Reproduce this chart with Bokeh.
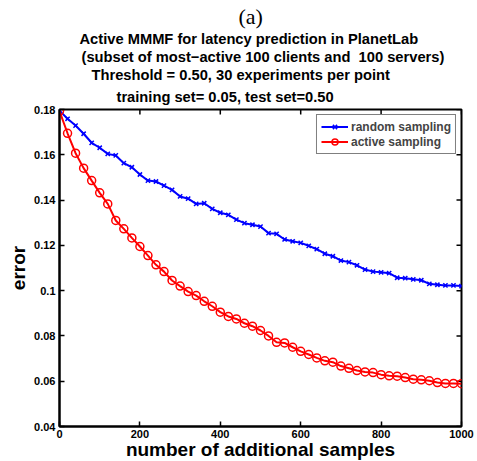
import math
from bokeh.plotting import figure
from bokeh.models import Range1d, FixedTicker, LinearAxis, Legend, Title
from bokeh.embed import file_html
from bokeh.resources import INLINE

samples = list(range(0, 1001, 20))
random_err = [0.1795, 0.1759, 0.1729, 0.1693, 0.1653, 0.1631, 0.1604, 0.1597, 0.1563, 0.1545,
              0.1513, 0.1486, 0.1482, 0.1464, 0.1445, 0.1416, 0.1406, 0.1383, 0.1386, 0.1361,
              0.1344, 0.1335, 0.1314, 0.1298, 0.1291, 0.1283, 0.1254, 0.1251, 0.1226, 0.1218,
              0.1211, 0.1198, 0.1183, 0.1163, 0.1152, 0.1133, 0.1126, 0.1112, 0.1093, 0.1084,
              0.1081, 0.1077, 0.1057, 0.1055, 0.1050, 0.1046, 0.1030, 0.1026, 0.1023, 0.1023,
              0.1020]
active_err = [0.1793, 0.1695, 0.1607, 0.1541, 0.1486, 0.1432, 0.1383, 0.1310, 0.1273, 0.1233,
              0.1195, 0.1155, 0.1114, 0.1084, 0.1045, 0.1020, 0.0996, 0.0978, 0.0953, 0.0931,
              0.0905, 0.0886, 0.0875, 0.0856, 0.0843, 0.0824, 0.0800, 0.0772, 0.0769, 0.0750,
              0.0732, 0.0718, 0.0703, 0.0690, 0.0684, 0.0667, 0.0657, 0.0647, 0.0641, 0.0638,
              0.0629, 0.0624, 0.0622, 0.0616, 0.0609, 0.0606, 0.0602, 0.0594, 0.0590, 0.0590,
              0.0589]
x_ticks = [0, 200, 400, 600, 800, 1000]
x_tick_labels = ["0", "200", "400", "600", "800", "1000"]
y_ticks = [0.04, 0.06, 0.08, 0.10, 0.12, 0.14, 0.16, 0.18]
y_tick_labels = ["0.04", "0.06", "0.08", "0.1", "0.12", "0.14", "0.16", "0.18"]
series_names = ["random sampling", "active sampling"]
title_lines = ["Active MMMF for latency prediction in PlanetLab",
               "(subset of most\u2212active 100 clients and \u00a0100 servers)",
               "Threshold = 0.50, 30 experiments per point",
               "training set= 0.05, test set=0.50"]
panel_tag = "(a)"
x_label = "number of additional samples"
y_label = "error"

FONT = "Liberation Sans"
FRAME_W, FRAME_H = 402, 317
BL, BT, BR, BB = 59, 109, 16, 34

p = figure(frame_width=FRAME_W, frame_height=FRAME_H, output_backend="svg",
           toolbar_location=None, title=None,
           x_range=Range1d(0, 1000), y_range=Range1d(0.04, 0.18),
           min_border_left=BL, min_border_top=BT, min_border_right=BR,
           min_border_bottom=BB, x_axis_location=None, y_axis_location=None)
p.grid.visible = False
p.outline_line_color = "black"
p.outline_line_width = 2
p.background_fill_color = "white"
p.border_fill_color = "white"


def style_axis(ax, ticks, labels):
    ax.ticker = FixedTicker(ticks=ticks)
    ax.major_label_overrides = {t: l for t, l in zip(ticks, labels)}
    ax.minor_tick_line_color = None
    ax.major_tick_in = 5
    ax.major_tick_out = 0
    ax.major_tick_line_width = 1.5
    ax.major_tick_line_color = "black"
    ax.axis_line_width = 2
    ax.axis_line_color = "black"
    ax.major_label_text_font = FONT
    ax.major_label_text_font_style = "bold"
    ax.major_label_text_color = "black"
    ax.major_label_text_font_size = "11px"
    ax.major_label_standoff = 4
    ax.axis_label_text_font = FONT
    ax.axis_label_text_font_style = "bold"
    ax.axis_label_text_font_size = "19px"
    ax.axis_label_text_color = "black"


xb = LinearAxis(axis_label=x_label)
style_axis(xb, x_ticks, x_tick_labels)
xb.major_label_standoff = 3
xb.axis_label_standoff = -2
yl = LinearAxis(axis_label=y_label)
style_axis(yl, y_ticks, y_tick_labels)
yl.axis_label_standoff = 2
p.add_layout(xb, "below")
p.add_layout(yl, "left")

# inward tick marks on the top and right edges of the box (half of each dash
# falls outside the frame and is clipped)
p.scatter(x_ticks, [0.18] * len(x_ticks), marker="dash", size=10, angle=math.pi / 2,
          line_color="black", line_width=1.5)
p.scatter([1000] * len(y_ticks), y_ticks, marker="dash", size=10,
          line_color="black", line_width=1.5)

r1 = p.line(samples, random_err, line_color="#0000ff", line_width=2)
m1 = p.scatter(samples, random_err, marker="x", size=6, line_color="#0000ff", line_width=1.5)
r2 = p.line(samples, active_err, line_color="#ff0000", line_width=2)
m2 = p.scatter(samples, active_err, marker="circle", size=8, line_color="#ff0000",
               fill_color=None, line_width=1.5)

legend = Legend(items=[(series_names[0], [r1, m1]), (series_names[1], [r2, m2])],
                location="top_right", margin=5, padding=4, spacing=0,
                border_line_color="black", border_line_width=1,
                background_fill_color="white", background_fill_alpha=1,
                label_text_font=FONT, label_text_font_style="bold",
                label_text_font_size="12px", label_standoff=3,
                glyph_width=27, glyph_height=15, label_height=15)
p.add_layout(legend)

# title lines, nearest the frame first
offsets = [20, 22, 32, 57]
standoffs = [0, 0, 0, 9]
for txt, off, so in reversed(list(zip(title_lines, offsets, standoffs))):
    p.add_layout(Title(text=txt, align="left", offset=off, standoff=so,
                       text_font=FONT, text_font_style="bold",
                       text_font_size="14.7px", text_color="black"), "above")
p.add_layout(Title(text=panel_tag, align="left", offset=179, standoff=0,
                   text_font="Liberation Serif", text_font_style="normal",
                   text_font_size="22px", text_color="black"), "above")

open("out.html", "w").write(file_html(p, INLINE))
